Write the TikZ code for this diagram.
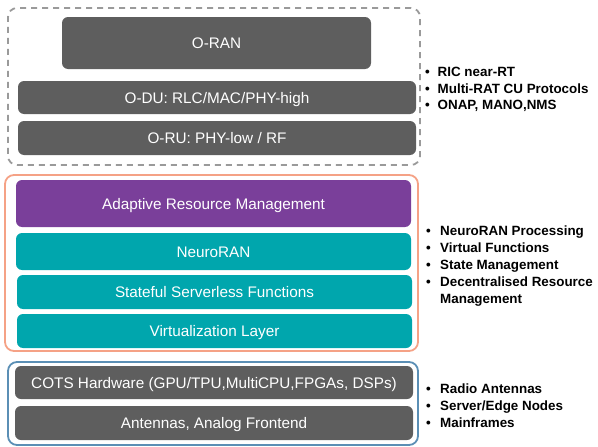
\documentclass[tikz,border=0pt]{standalone}
\usepackage{fontspec}
\setmainfont{Liberation Sans}
\definecolor{boxgray}{HTML}{5E5E5E}
\definecolor{adpurple}{HTML}{7A3F9A}
\definecolor{nteal}{HTML}{00A6AD}
\definecolor{orangeb}{HTML}{F5A286}
\definecolor{blueb}{HTML}{5B8FB5}
\definecolor{dashgray}{HTML}{9A9A9A}
\tikzset{
  layer/.style={rounded corners=6pt, inner sep=0pt, outer sep=0pt, text=white,
    font=\fontsize{15.3}{17}\selectfont, text height=11pt, text depth=0pt},
  graybox/.style={layer, fill=boxgray},
  frame/.style={rounded corners=9pt, line width=1.8pt, inner sep=0pt, outer sep=0pt},
  bul/.style={anchor=base west, inner sep=0pt, font=\fontsize{13.4}{17}\selectfont\bfseries, align=left},
}
\begin{document}
\begin{tikzpicture}[x=1pt,y=-1pt]
\useasboundingbox (0,0) rectangle (598,447);
% frames
\node[frame, draw=dashgray, dash pattern=on 6pt off 5pt, minimum width=412pt, minimum height=157pt] (oranframe) at (214,86.5) {};
\node[frame, draw=orangeb, minimum width=413pt, minimum height=176pt] (nframe) at (211.5,263) {};
\node[frame, draw=blueb, minimum width=410pt, minimum height=83pt] (hwframe) at (213,403.5) {};
% O-RAN group
\node[graybox, minimum width=309pt, minimum height=52pt] (oran) at (216.5,43) {O-RAN};
\node[graybox, minimum width=398pt, minimum height=33pt] (odu) at (217,97.5) {O-DU: RLC/MAC/PHY-high};
\node[graybox, minimum width=398pt, minimum height=34pt] (oru) at (217,138) {O-RU: PHY-low / RF};
% NeuroRAN group
\node[layer, fill=adpurple, minimum width=395pt, minimum height=47pt] (arm) at (213.5,203.5) {Adaptive Resource Management};
\node[layer, fill=nteal, minimum width=395pt, minimum height=37pt] (neuro) at (213.5,251.5) {NeuroRAN};
\node[layer, fill=nteal, minimum width=395pt, minimum height=34pt] (ssf) at (214.5,292) {Stateful Serverless Functions};
\node[layer, fill=nteal, minimum width=395pt, minimum height=34pt] (virt) at (214.5,331) {Virtualization Layer};
% HW group
\node[graybox, minimum width=398pt, minimum height=33pt] (cots) at (214,382.5) {COTS Hardware (GPU/TPU,MultiCPU,FPGAs, DSPs)};
\node[graybox, minimum width=398pt, minimum height=34pt] (ant) at (214,423) {Antennas, Analog Frontend};
% bullets
\node[bul] (b1) at (425,76) {\makebox[12.5pt][l]{•}RIC near-RT};
\node[bul] (b2) at (425,93) {\makebox[12.5pt][l]{•}Multi-RAT CU Protocols};
\node[bul] (b3) at (425,109) {\makebox[12.5pt][l]{•}ONAP, MANO,NMS};
\node[bul] (c1) at (426,235) {\makebox[14pt][l]{•}NeuroRAN Processing};
\node[bul] (c2) at (426,252) {\makebox[14pt][l]{•}Virtual Functions};
\node[bul] (c3) at (426,269) {\makebox[14pt][l]{•}State Management};
\node[bul] (c4) at (426,286) {\makebox[14pt][l]{•}Decentralised Resource};
\node[bul] (c5) at (c4.base west) [yshift=-17pt, xshift=14pt] {Management};
\node[bul] (d1) at (426,393) {\makebox[14pt][l]{•}Radio Antennas};
\node[bul] (d2) at (426,410) {\makebox[14pt][l]{•}Server/Edge Nodes};
\node[bul] (d3) at (426,427) {\makebox[14pt][l]{•}Mainframes};
\end{tikzpicture}
\end{document}
